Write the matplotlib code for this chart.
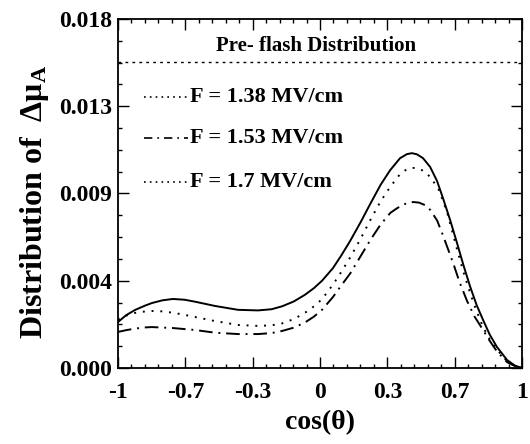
import numpy as np
import matplotlib
matplotlib.use("Agg")
import matplotlib.pyplot as plt
from matplotlib.ticker import FixedLocator, AutoMinorLocator

#_________________________________________
# DATA
#_________________________________________
# solid curve
x_solid = [-1.0, -0.96, -0.916, -0.87, -0.832, -0.78, -0.728, -0.67, -0.619, -0.52,
           -0.406, -0.307, -0.24, -0.188, -0.13, -0.074, -0.03, 0.01, 0.064, 0.105,
           0.149, 0.2, 0.248, 0.30, 0.347, 0.396, 0.43, 0.455, 0.48, 0.51, 0.545,
           0.579, 0.609, 0.645, 0.678, 0.71, 0.743, 0.775, 0.807, 0.84, 0.876,
           0.926, 0.965, 1.0]
y_solid = [0.00237, 0.00272, 0.00299, 0.00320, 0.00335, 0.00349, 0.00356, 0.00352,
           0.00342, 0.00320, 0.00300, 0.00297, 0.00303, 0.00318, 0.00343, 0.00378,
           0.00412, 0.00450, 0.00515, 0.00580, 0.00655, 0.00750, 0.00845, 0.00945,
           0.01020, 0.01082, 0.01103, 0.01108, 0.01102, 0.01082, 0.01037, 0.00965,
           0.00875, 0.00760, 0.00645, 0.00530, 0.00420, 0.00325, 0.00248, 0.00172,
           0.00108, 0.00041, 0.00012, 0.0]

# F = 1.38 MV/cm (dotted)
x_138 = [-1.0, -0.96, -0.916, -0.87, -0.832, -0.78, -0.728, -0.67, -0.619, -0.52,
         -0.406, -0.307, -0.24, -0.188, -0.13, -0.074, -0.03, 0.01, 0.064, 0.105,
         0.151, 0.2, 0.249, 0.30, 0.348, 0.40, 0.435, 0.462, 0.49, 0.52, 0.55,
         0.59, 0.63, 0.679, 0.71, 0.743, 0.775, 0.807, 0.84, 0.877, 0.926, 0.965, 1.0]
y_138 = [0.00250, 0.00270, 0.00284, 0.00291, 0.00294, 0.00292, 0.00285, 0.00274,
         0.00263, 0.00242, 0.00222, 0.00217, 0.00220, 0.00230, 0.00252, 0.00285,
         0.00318, 0.00355, 0.00430, 0.00495, 0.00573, 0.00665, 0.00763, 0.00860,
         0.00935, 0.01005, 0.01028, 0.01032, 0.01028, 0.01012, 0.00980, 0.00915,
         0.00800, 0.00609, 0.00495, 0.00387, 0.00293, 0.00211, 0.00148, 0.00093,
         0.00035, 0.00010, 0.0]

# F = 1.53 MV/cm (dash-dot)
x_153 = [-1.0, -0.96, -0.916, -0.87, -0.832, -0.728, -0.619, -0.52, -0.406, -0.307,
         -0.24, -0.188, -0.13, -0.074, -0.03, 0.01, 0.064, 0.105, 0.151, 0.2, 0.249,
         0.30, 0.348, 0.38, 0.41, 0.44, 0.462, 0.49, 0.52, 0.546, 0.58, 0.61,
         0.659, 0.69, 0.728, 0.765, 0.807, 0.84, 0.876, 0.926, 0.965, 1.0]
y_153 = [0.00186, 0.00195, 0.00203, 0.00209, 0.00211, 0.00206, 0.00196, 0.00182,
         0.00175, 0.00175, 0.00180, 0.00191, 0.00208, 0.00235, 0.00265, 0.00300,
         0.00366, 0.00425, 0.00490, 0.00575, 0.00660, 0.00740, 0.00800, 0.00823,
         0.00842, 0.00853, 0.00856, 0.00853, 0.00840, 0.00815, 0.00760, 0.00680,
         0.00541, 0.00445, 0.00345, 0.00265, 0.00196, 0.00140, 0.00085, 0.00030,
         0.00010, 0.0]

pre_flash = 0.0158

x_ticks = [-1, -2/3, -1/3, 0, 1/3, 2/3, 1]
x_ticklabels = ["-1", "-0.7", "-0.3", "0", "0.3", "0.7", "1"]
y_ticks = [0, 0.0045, 0.009, 0.0135, 0.018]
y_ticklabels = ["0.000", "0.004", "0.009", "0.013", "0.018"]

legend_labels = ["F = 1.38 MV/cm", "F = 1.53 MV/cm", "F = 1.7 MV/cm"]

#_________________________________________
# PLOT
#_________________________________________
plt.rcParams["font.family"] = "Liberation Serif"
plt.rcParams["font.weight"] = "bold"
plt.rcParams["mathtext.fontset"] = "custom"
plt.rcParams["mathtext.rm"] = "Liberation Serif:bold"
plt.rcParams["mathtext.bf"] = "Liberation Serif:bold"
plt.rcParams["mathtext.it"] = "Liberation Serif:bold"
plt.rcParams["mathtext.default"] = "bf"

dotted = (0, (1, 3.5))
dashdot = (0, (7, 3, 1, 3))

fig = plt.figure(figsize=(5.3, 4.44), dpi=100)
ax = fig.add_axes([0.2226, 0.1712, 0.985 - 0.2226, 0.9572 - 0.1712])

ax.plot(x_solid, y_solid, color="black", lw=1.4, ls="-")
ax.plot(x_138, y_138, color="black", lw=1.4, ls=dotted)
ax.plot(x_153, y_153, color="black", lw=1.4, ls=dashdot)
ax.axhline(pre_flash, color="black", lw=1.0, ls=(0, (2, 3)))

ax.set_xlim(-1, 1)
ax.set_ylim(0, 0.018)
ax.xaxis.set_major_locator(FixedLocator(x_ticks))
ax.set_xticklabels(x_ticklabels)
ax.yaxis.set_major_locator(FixedLocator(y_ticks))
ax.set_yticklabels(y_ticklabels)
ax.xaxis.set_minor_locator(AutoMinorLocator(5))
ax.yaxis.set_minor_locator(AutoMinorLocator(4))
ax.tick_params(which="both", direction="in", top=True, right=True,
               labelsize=17, width=1.0)
ax.tick_params(which="major", length=8)
ax.tick_params(axis="x", which="major", pad=10)
ax.tick_params(axis="y", which="major", pad=4)
ax.tick_params(which="minor", length=3)
for s in ax.spines.values():
    s.set_linewidth(1.3)

ax.set_xlabel("cos(θ)", fontsize=20, fontweight="bold", labelpad=5)
ax.set_ylabel(r"Distribution of  $\Delta\mu_A$", fontsize=23, fontweight="bold")
ax.yaxis.set_label_coords(-0.165, 0.476)

# legend written by hand, as in the original
ax.text(0.489, 0.923, "Pre- flash Distribution", transform=ax.transAxes,
        ha="center", va="center", fontsize=15, fontweight="bold")
rows = [0.7765, 0.659, 0.533]
styles = [(0, (1, 2.5)), (0, (5, 3, 1, 3)), (0, (1, 2.5))]
for yy, lab, st in zip(rows, legend_labels, styles):
    ax.plot([0.064, 0.173], [yy, yy], transform=ax.transAxes, color="black",
            lw=1.2, ls=st)
    ax.text(0.178, yy, lab, transform=ax.transAxes, ha="left", va="center",
            fontsize=16, fontweight="bold")

plt.savefig("out.png", dpi=100)
